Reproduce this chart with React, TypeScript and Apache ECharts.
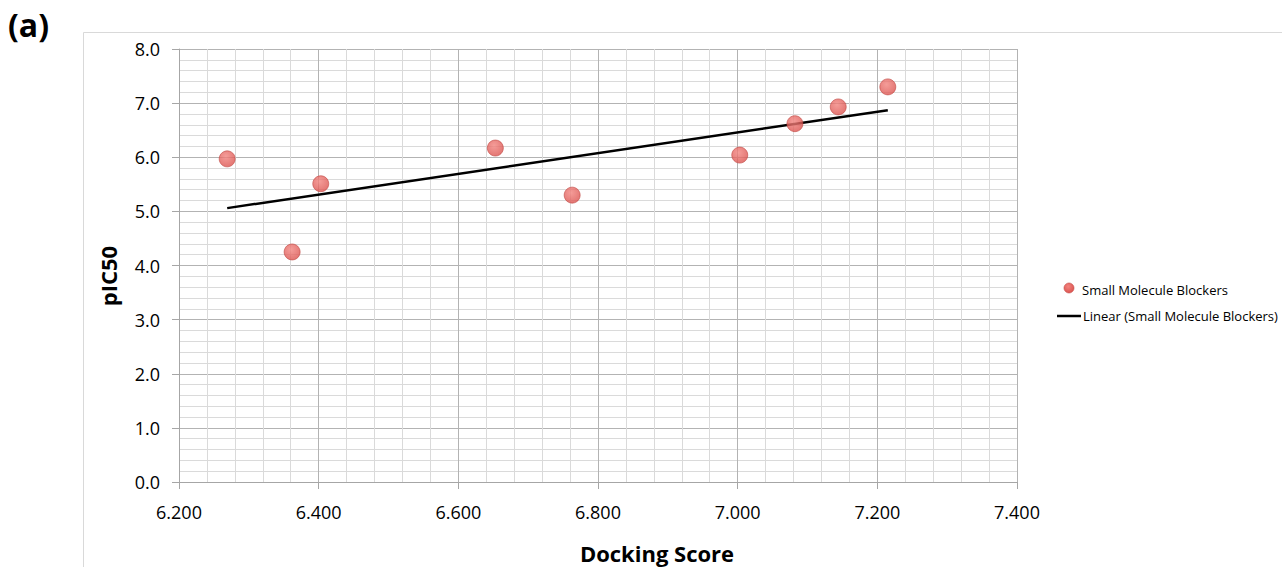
import React, { useEffect, useRef } from "react";
import * as echarts from "echarts";

const dockingScores = [6.269, 6.362, 6.403, 6.653, 6.763, 7.003, 7.082, 7.144, 7.215];
const pIC50 = [5.97, 4.25, 5.51, 6.17, 5.30, 6.04, 6.62, 6.93, 7.30];
const trendX = [6.269, 7.215];
const trendY = [5.06, 6.87];
const seriesName = "Small Molecule Blockers";
const trendName = "Linear (Small Molecule Blockers)";
const xTitle = "Docking Score";
const yTitle = "pIC50";
const panelLabel = "(a)";

const FONT = "'Open Sans', 'Liberation Sans', sans-serif";

export default function App() {
  const ref = useRef<HTMLDivElement>(null);
  useEffect(() => {
    if (!ref.current) return;
    const chart = echarts.init(ref.current, undefined, { renderer: "svg" });
    const pointColor = new echarts.graphic.RadialGradient(0.42, 0.35, 0.65, [
      { offset: 0, color: "#f2847f" },
      { offset: 1, color: "#dc5450" },
    ]);
    chart.setOption({
      animation: false,
      backgroundColor: "#ffffff",
      grid: { left: 179, top: 49, right: 265, bottom: 85, containLabel: false },
      xAxis: {
        type: "value",
        min: 6.2,
        max: 7.4,
        interval: 0.2,
        axisLine: { show: true, lineStyle: { color: "#a6a6a6", width: 1 } },
        axisTick: { show: true, length: 7, lineStyle: { color: "#a6a6a6" } },
        axisLabel: {
          fontFamily: FONT,
          fontSize: 18,
          color: "#000",
          margin: 21,
          formatter: (v: number) => v.toFixed(3),
        },
        splitLine: { show: true, lineStyle: { color: "#b3b3b3", width: 1 } },
        minorTick: { show: false, splitNumber: 5 },
        minorSplitLine: { show: true, lineStyle: { color: "#dadada", width: 1 } },
      },
      yAxis: {
        type: "value",
        min: 0,
        max: 8,
        interval: 1,
        axisLine: { show: true, lineStyle: { color: "#a6a6a6", width: 1 } },
        axisTick: { show: true, length: 7, lineStyle: { color: "#a6a6a6" } },
        axisLabel: {
          fontFamily: FONT,
          fontSize: 18,
          color: "#000",
          margin: 19,
          formatter: (v: number) => v.toFixed(1),
        },
        splitLine: { show: true, lineStyle: { color: "#b3b3b3", width: 1 } },
        minorTick: { show: false, splitNumber: 5 },
        minorSplitLine: { show: true, lineStyle: { color: "#dadada", width: 1 } },
      },
      series: [
        {
          name: trendName,
          type: "line",
          data: trendX.map((x, i) => [x, trendY[i]]),
          showSymbol: false,
          symbol: "none",
          lineStyle: { color: "#000", width: 2.5 },
          z: 2,
        },
        {
          name: seriesName,
          type: "scatter",
          data: dockingScores.map((x, i) => [x, pIC50[i]]),
          symbolSize: 16,
          itemStyle: { color: pointColor, borderColor: "#c24a46", borderWidth: 0.8 },
          z: 3,
        },
      ],
      graphic: [
        {
          type: "rect",
          shape: { x: 83.5, y: 32.5, width: 1300, height: 600 },
          style: { fill: "none", stroke: "#d9d9d9", lineWidth: 1 },
          silent: true,
          z: -10,
        },
        {
          type: "text",
          x: 8,
          y: 8,
          style: { text: panelLabel, font: `bold 32px ${FONT}`, fill: "#000" },
        },
        {
          type: "text",
          x: 657,
          y: 566,
          style: {
            text: xTitle,
            font: `bold 22px ${FONT}`,
            lineHeight: 26,
            fill: "#000",
            align: "center",
            verticalAlign: "bottom",
          },
        },
        {
          type: "text",
          x: 108,
          y: 276,
          rotation: Math.PI / 2,
          style: {
            text: yTitle,
            font: `bold 22px ${FONT}`,
            fill: "#000",
            align: "center",
            verticalAlign: "middle",
          },
        },
        {
          type: "circle",
          shape: { cx: 1069, cy: 288, r: 5 },
          style: { fill: pointColor, stroke: "#c24a46", lineWidth: 0.6 },
        },
        {
          type: "text",
          x: 1082,
          y: 290,
          style: {
            text: seriesName,
            font: `13px ${FONT}`,
            fill: "#000",
            verticalAlign: "middle",
          },
        },
        {
          type: "line",
          shape: { x1: 1057, y1: 316, x2: 1081, y2: 316 },
          style: { stroke: "#000", lineWidth: 2.5 },
        },
        {
          type: "text",
          x: 1083,
          y: 316,
          style: {
            text: trendName,
            font: `13px ${FONT}`,
            fill: "#000",
            verticalAlign: "middle",
          },
        },
      ],
    });
    return () => chart.dispose();
  }, []);
  return <div ref={ref} style={{ width: 1282, height: 567, position: "absolute", left: 0, top: 0 }} />;
}
